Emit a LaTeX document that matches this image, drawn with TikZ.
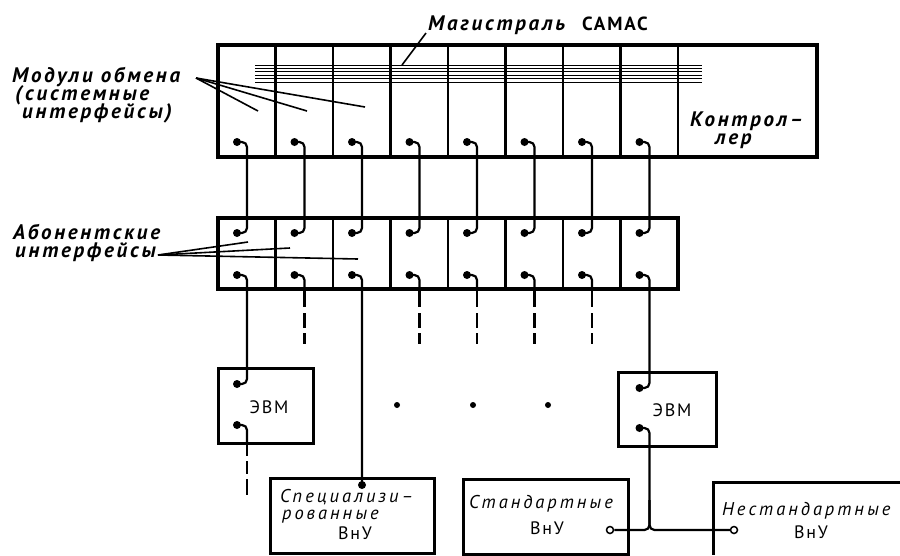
\documentclass[tikz,border=0pt]{standalone}
\usepackage{fontspec}
\setmainfont{PT Sans}
\newfontfamily\labfont[LetterSpace=13]{PT Sans}
\newfontfamily\inboxfont[LetterSpace=16]{PT Sans}
\newfontfamily\uprfont[LetterSpace=10]{PT Sans}
\begin{document}
\begin{tikzpicture}[x=1pt,y=-1pt,
  cratebox/.style={draw, line width=3.2pt, anchor=north west, inner sep=0pt, outer sep=0pt},
  smallbox/.style={draw, line width=3pt, anchor=north west, inner sep=0pt, outer sep=0pt},
  divider/.style={line width=2.4pt},
  wire/.style={line width=2.2pt, rounded corners=5pt},
  tail/.style={line width=2.2pt},
  leader/.style={line width=1.6pt},
  busline/.style={line width=1pt},
  dot/.style={circle, fill, inner sep=0pt, minimum size=8pt},
  odot/.style={circle, draw, fill=white, line width=1.5pt, inner sep=0pt, minimum size=7pt},
  outlabel/.style={font=\labfont\bfseries\itshape\fontsize{21}{21}\selectfont, anchor=base west, inner sep=0pt},
  inlabel/.style={font=\inboxfont\itshape\fontsize{18.5}{18}\selectfont, anchor=base west, inner sep=0pt},
  uprlabel/.style={font=\uprfont\fontsize{18}{18}\selectfont, anchor=base, inner sep=0pt},
]
\useasboundingbox (0,0) rectangle (900,555);
\fill[white] (0,0) rectangle (900,555);

% crates
\node[cratebox, minimum width=599pt, minimum height=112pt] (crateTop) at (218,45) {};
\node[cratebox, minimum width=460pt, minimum height=71pt] (crateMid) at (218,218) {};
\foreach \i in {1,...,8} {
  \pgfmathsetmacro\X{218+57.5*\i}
  \draw[divider] (\X,45) -- (\X,157);
}
\foreach \i in {1,...,7} {
  \pgfmathsetmacro\X{218+57.5*\i}
  \draw[divider] (\X,218) -- (\X,289);
}

% bus lines
\foreach \y in {65,68.4,71.8,75.2,78.6,82} {
  \draw[busline] (255,\y) -- (702,\y);
}

% small boxes
\node[smallbox, minimum width=95pt, minimum height=75pt] (evm1) at (218,368) {};
\node[smallbox, minimum width=98pt, minimum height=74pt] (evm2) at (618,372) {};
\node[smallbox, minimum width=164pt, minimum height=75pt] (spec) at (270,478) {};
\node[smallbox, minimum width=165pt, minimum height=75pt] (stand) at (463,479) {};
\coordinate (nsTR) at (900,482);
\coordinate (nsTL) at (713,482);
\coordinate (nsBL) at (713,555);
\draw[line width=3pt] (nsTR) -- (nsTL) -- (nsBL);

% crate connectors
\foreach \i in {0,...,7} {
  \pgfmathsetmacro\D{218+57.5*\i+19}
  \pgfmathsetmacro\V{218+57.5*\i+29}
  \node[dot] (t\i) at (\D,142) {};
  \node[dot] (u\i) at (\D,233) {};
  \node[dot] (w\i) at (\D,275) {};
  \draw[wire] (t\i.center) -- (\V,142) -- (\V,233) -- (u\i.center);
}

% dashed tails
\foreach \i in {1,3,4,5,6} {
  \pgfmathsetmacro\V{218+57.5*\i+29}
  \coordinate (tb\i) at (\V,289);
  \coordinate (te\i) at (\V,344);
  \draw[wire] (w\i.center) -- (\V,275) -- (tb\i);
  \draw[tail, dash pattern=on 18pt off 6pt on 15pt off 5pt on 20pt] (tb\i) -- (te\i);
}

% left EVM
\node[dot] (e1a) at (237,384) {};
\node[dot] (e1b) at (237,425) {};
\draw[wire] (w0.center) -- (247,275) -- (247,384) -- (e1a.center);
\coordinate (e1tb) at (247,443);
\coordinate (e1te) at (247,495);
\draw[wire] (e1b.center) -- (247,425) -- (e1tb);
\draw[tail, dash pattern=on 13pt off 5pt on 13pt off 5pt on 20pt] (e1tb) -- (e1te);

% specialised
\node[dot] (sp) at (362,485) {};
\draw[wire] (w2.center) -- (362,275) -- (sp.center);

% right EVM
\node[dot] (e2a) at (639.5,388) {};
\node[dot] (e2b) at (639.5,428) {};
\draw[wire] (w7.center) -- (649.5,275) -- (649.5,388) -- (e2a.center);
\node[odot] (oc1) at (610,530) {};
\node[odot] (oc2) at (734,530) {};
\draw[wire] (e2b.center) -- (649.5,428) -- (649.5,530) -- (oc1);
\draw[wire] (649.5,500) -- (649.5,530) -- (oc2);

% ellipsis dots
\node[dot, minimum size=6pt] (el1) at (397,405) {};
\node[dot, minimum size=6pt] (el2) at (473,405) {};
\node[dot, minimum size=6pt] (el3) at (548,405) {};

% labels
\node[outlabel] (mag) at (428,30) {Магистраль};
\node[outlabel, font=\uprfont\bfseries\fontsize{19}{19}\selectfont] (camac) at (582,30) {CAMAC};
\coordinate (magL) at (426,33);
\coordinate (magE) at (402,65);
\draw[leader] (magL) -- (magE);

\node[outlabel] (mod1) at (12,82) {Модули обмена};
\node[outlabel] (mod2) at (15,100) {(\,системные};
\node[outlabel] (mod3) at (22,118) {интерфейсы)};
\coordinate (modL) at (196,78);
\coordinate (modE1) at (258,111);
\coordinate (modE2) at (307,111);
\coordinate (modE3) at (365,107);
\draw[leader] (modL) -- (modE1);
\draw[leader] (modL) -- (modE2);
\draw[leader] (modL) -- (modE3);

\node[outlabel] (ab1) at (13,239) {Абонентские};
\node[outlabel] (ab2) at (15,257) {интерфейсы};
\coordinate (abL) at (158,255);
\coordinate (abE1) at (248,242);
\coordinate (abE2) at (290,248);
\coordinate (abE3) at (358,259);
\draw[leader] (abL) -- (abE1);
\draw[leader] (abL) -- (abE2);
\draw[leader] (abL) -- (abE3);

\node[outlabel] (ctl1) at (690,126) {Контрол–};
\node[outlabel] (ctl2) at (715,144) {лер};

\node[uprlabel] (evm1t) at (269,413) {ЭВМ};
\node[uprlabel] (evm2t) at (672,416) {ЭВМ};

\node[inlabel] (sp1) at (280,502) {Специализи–};
\node[inlabel] (sp2) at (282,519) {рованные};
\node[uprlabel] (sp3) at (355,539) {ВнУ};
\node[inlabel] (st1) at (469,508) {Стандартные};
\node[uprlabel] (st2) at (547,534) {ВнУ};
\node[inlabel] (ns1) at (722,515) {Нестандартные};
\node[uprlabel] (ns2) at (811,538) {ВнУ};
\end{tikzpicture}
\end{document}
